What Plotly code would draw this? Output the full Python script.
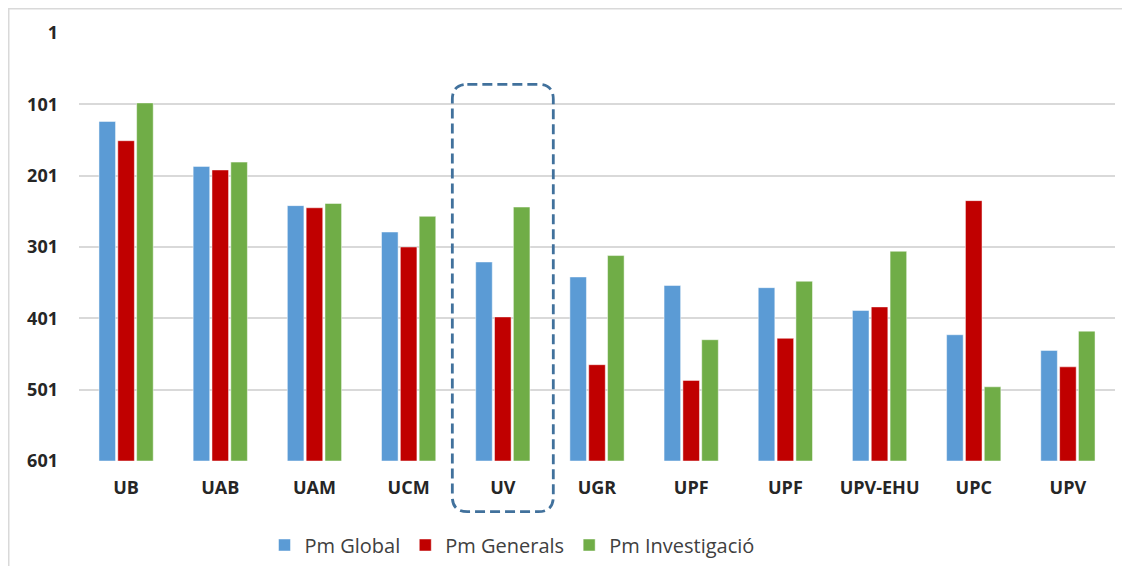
import plotly.graph_objects as go

categories = ["UB", "UAB", "UAM", "UCM", "UV", "UGR", "UPF", "UPF", "UPV-EHU", "UPC", "UPV"]
pm_global = [125, 188, 243, 280, 322, 343, 355, 358, 390, 424, 446]
pm_generals = [152, 193, 246, 301, 399, 466, 488, 429, 385, 236, 469]
pm_investigacio = [99, 182, 240, 258, 245, 313, 431, 349, 307, 497, 419]
series_names = ["Pm Global", "Pm Generals", "Pm Investigació"]
series_colors = ["#5B9BD5", "#C00000", "#70AD47"]
tick_vals = [1, 101, 201, 301, 401, 501, 601]
highlight = "UV"

BASE = 601
FONT = "Open Sans"
x_idx = list(range(len(categories)))

fig = go.Figure()
for name, vals, col in zip(series_names, [pm_global, pm_generals, pm_investigacio], series_colors):
    fig.add_trace(go.Bar(
        x=x_idx, y=[v - BASE for v in vals], base=BASE, name=name,
        marker=dict(color=col, line=dict(color="rgba(255,255,255,0.6)", width=0.8)),
    ))

# page offset of the plot div (default body margin)
OFF = 8
W, H = 1122, 558
# desired page-pixel plot area
PL, PR, PT, PB = 79, 1115, 33, 461
ml, mt = PL - OFF, PT - OFF
mr = W - (PR - OFF)
mb = H - (PB - OFF)
pw, ph = W - ml - mr, H - mt - mb


def px2paper(px, py):
    """page pixel -> paper coords"""
    return (px - OFF - ml) / pw, (H - mb - (py - OFF)) / ph


lx, ly = px2paper(512, 545)

fig.update_layout(
    width=W, height=H,
    margin=dict(l=ml, r=mr, t=mt, b=mb, autoexpand=False),
    paper_bgcolor="white", plot_bgcolor="white",
    barmode="group", bargap=0.4, bargroupgap=0.12,
    font=dict(family=FONT, color="#262626"),
    showlegend=True,
    legend=dict(orientation="h", x=lx, xanchor="center", y=ly, yanchor="middle",
                font=dict(size=20, color="#404040"), itemwidth=30, traceorder="normal"),
    xaxis=dict(range=[-0.5, len(categories) - 0.5], tickmode="array", tickvals=x_idx,
               ticktext=["<b>%s</b>" % c for c in categories],
               tickfont=dict(size=18, color="#262626", family=FONT),
               showgrid=False, zeroline=False, showline=False, ticks="",
               ticklabelstandoff=14, automargin=False),
    yaxis=dict(range=[BASE, 1], tickmode="array", tickvals=tick_vals,
               ticktext=["<b>%d</b>" % t for t in tick_vals],
               tickfont=dict(size=18, color="#262626", family=FONT),
               showgrid=True, gridcolor="#D9D9D9", gridwidth=2,
               zeroline=False, showline=False, ticks="", ticklabelstandoff=20,
               automargin=False),
)

# outer chart border (top & left visible)
bx0, by0 = px2paper(8.75, 600)
bx1, by1 = px2paper(8.75, 8.75)
bx2, _ = px2paper(1160, 8.75)
fig.add_shape(type="path", xref="paper", yref="paper",
              path=f"M {bx0},{by0} L {bx1},{by1} L {bx2},{by1}",
              line=dict(color="#D9D9D9", width=1.5))

# dashed rounded box around highlighted category
n = len(categories)
hi = categories.index(highlight)
x0 = (hi + 0.5 - 0.536) / n
x1 = (hi + 0.5 + 0.536) / n
_, y0 = px2paper(0, 84.3)
_, y1 = px2paper(0, 511.7)
rx, ry = 15 / pw, 15 / ph
path = (f"M {x0+rx},{y0} L {x1-rx},{y0} Q {x1},{y0} {x1},{y0-ry} "
        f"L {x1},{y1+ry} Q {x1},{y1} {x1-rx},{y1} L {x0+rx},{y1} "
        f"Q {x0},{y1} {x0},{y1+ry} L {x0},{y0-ry} Q {x0},{y0} {x0+rx},{y0} Z")
fig.add_shape(type="path", xref="paper", yref="paper", path=path,
              line=dict(color="#41719C", width=2.8, dash="10px,5px"))

fig.write_html("out.html")
